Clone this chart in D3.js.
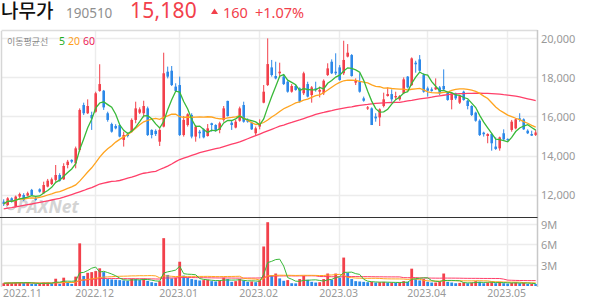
<!DOCTYPE html>
<meta charset="utf-8" />
<style>
  body {
    margin: 0;
    background: #fff;
  }
  text {
    font-family: "Noto Sans", sans-serif;
  }
</style>
<body>
  <script src="https://d3js.org/d3.v7.min.js"></script>
  <script>
    // header values
    var stockName = "나무가",
      stockCode = "190510",
      lastPrice = "15,180",
      change = "160",
      changePct = "+1.07%";

    // month labels and index of first trading day of each month
    var monthLabels = ["2022.11", "2022.12", "2023.01", "2023.02", "2023.03", "2023.04", "2023.05"];
    var monthStart = [1, 23, 44, 64, 84, 106, 126];

    var priceTicks = [12000, 14000, 16000, 18000, 20000];
    var volumeTicks = [3, 6, 9]; // millions

    // daily candles, 2022-10-31 .. 2023-05-12
    var open = [11650, 11480, 11820, 11400, 11910, 11990, 11960, 12250, 11820, 12280,
      12080, 12420, 12550, 12760, 13010, 12790, 13520, 13780, 13610, 14290,
      16580, 16160, 16070, 16240, 17300, 17310, 16160, 15610, 15510, 15560,
      14800, 15100, 15220, 15820, 16190, 16160, 16410, 15310, 15260, 14710,
      15480, 18280, 18330, 17520, 17600, 15050, 15560, 16070, 14970, 15220,
      15340, 15000, 15650, 15560, 15310, 15820, 16790, 15680, 15430, 15780,
      16580, 15820, 15680, 15140, 15480, 16700, 17600, 18500, 18060, 18200,
      18030, 17770, 17260, 17550, 17430, 17180, 17650, 17090, 17430, 17260,
      17180, 18110, 18790, 18280, 18500, 18200, 19050, 19130, 17720, 17770,
      16920, 16400, 16410, 15990, 15950, 16530, 17040, 17140, 16970, 16870,
      17180, 18030, 17600, 18740, 18910, 18110, 17430, 17380, 17380, 17480,
      17550, 17210, 16840, 17180, 16700, 17260, 16800, 16530, 16190, 15780,
      15170, 15000, 15100, 14460, 14370, 15140, 14850, 15310, 15390, 15900,
      15850, 15270, 15100, 15050];
    var high = [11770, 11880, 11870, 11960, 12110, 12080, 12160, 12300, 11910, 12330,
      12670, 12810, 12880, 13520, 13100, 13610, 13780, 13810, 14460, 16410,
      16700, 16870, 16240, 17260, 18660, 17350, 16240, 15680, 15600, 15610,
      15220, 15170, 15900, 16750, 16460, 16800, 16500, 15340, 15340, 15390,
      19250, 18540, 18570, 17690, 18030, 16020, 16160, 16160, 15560, 15310,
      15390, 15610, 15680, 15600, 15730, 16530, 16800, 15780, 15820, 16500,
      16750, 15900, 15730, 15480, 15850, 17600, 19980, 18880, 18790, 18740,
      18150, 17820, 17650, 17600, 17480, 18280, 17770, 17550, 17770, 17520,
      17890, 18710, 18910, 19220, 18620, 19860, 19690, 19180, 17940, 18200,
      17010, 16530, 16460, 16160, 16410, 17210, 17480, 17380, 17260, 17090,
      17990, 18060, 19010, 18840, 19130, 18200, 17520, 17480, 17940, 17550,
      18400, 17260, 17210, 17210, 17090, 17310, 16840, 16570, 16240, 15850,
      15220, 15140, 15140, 14930, 14970, 15340, 14880, 15820, 15900, 16160,
      15900, 15340, 15270, 15300];
    var low = [11430, 11430, 11600, 11360, 11820, 11690, 11910, 11940, 11700, 12110,
      12040, 12380, 12500, 12670, 12670, 12760, 13350, 13610, 13350, 14200,
      16070, 16120, 15310, 16190, 17260, 16330, 15730, 15170, 15340, 14930,
      14460, 14930, 15170, 15650, 16120, 15950, 15000, 14880, 15000, 14490,
      15440, 17940, 17550, 17260, 15000, 14970, 15480, 14880, 14710, 14880,
      14880, 14970, 15220, 15220, 15140, 15730, 15990, 15310, 15390, 15730,
      15680, 15680, 15310, 15000, 15340, 16670, 17550, 18030, 17890, 17990,
      17600, 17210, 17210, 17310, 16700, 17090, 16970, 16700, 17260, 16970,
      17090, 18060, 18160, 18110, 17820, 18110, 19010, 18030, 17600, 17210,
      16750, 16330, 15560, 15730, 15510, 16460, 17010, 16750, 16840, 16800,
      17140, 17430, 17550, 18230, 18280, 17210, 17010, 17260, 17350, 17090,
      17310, 16800, 16360, 16840, 16630, 16800, 16360, 16020, 15730, 15000,
      14970, 14630, 14250, 14290, 14250, 14760, 14750, 15220, 15340, 15730,
      15310, 15100, 15000, 15000];
    var close = [11530, 11820, 11650, 11910, 12040, 11740, 12080, 11990, 11740, 12160,
      12500, 12720, 12790, 13010, 12720, 13470, 13690, 13690, 14370, 16330,
      16160, 16530, 15900, 17180, 17650, 16460, 15820, 15220, 15390, 14970,
      15050, 15000, 15820, 16410, 16360, 16530, 15050, 15050, 15100, 15310,
      18200, 18030, 17600, 17300, 15050, 15820, 16110, 14970, 15480, 15140,
      14930, 15390, 15560, 15310, 15650, 16410, 16020, 15560, 15730, 16410,
      15730, 15730, 15340, 15390, 15650, 17260, 18670, 18110, 17940, 18280,
      17650, 17260, 17550, 17350, 16750, 18200, 17010, 17480, 17350, 17350,
      17820, 18450, 18200, 18200, 17860, 18880, 19250, 18060, 17820, 17260,
      16800, 16460, 15560, 15900, 16360, 16870, 17140, 16870, 17040, 17040,
      17890, 17480, 18960, 18660, 18330, 17260, 17310, 17300, 17480, 17180,
      17380, 16840, 17180, 16920, 17040, 16840, 16530, 16070, 15780, 15050,
      15090, 15100, 14630, 14340, 14930, 14830, 14800, 15730, 15850, 15820,
      15340, 15140, 15020, 15180];

    // volume in millions of shares
    var volume = [0.4, 0.45, 0.45, 0.5, 0.5, 0.45, 0.5, 0.3, 0.28, 0.35,
      0.5, 0.5, 0.4, 1.05, 0.3, 1.2, 0.55, 0.3, 1.35, 6.15,
      1.45, 1.9, 2.0, 2.15, 2.55, 2.0, 1.0, 0.95, 0.9, 0.85,
      0.8, 0.75, 1.05, 1.0, 0.85, 1.05, 0.75, 0.55, 0.45, 0.7,
      6.9, 1.6, 1.1, 1.2, 3.5, 1.5, 1.2, 1.0, 0.9, 0.8,
      0.85, 0.9, 0.7, 0.65, 0.8, 1.2, 1.0, 0.6, 0.7, 1.0,
      0.8, 0.6, 0.65, 0.55, 0.8, 5.7, 9.2, 1.55, 1.8, 1.1,
      0.75, 0.85, 0.4, 0.38, 1.0, 1.45, 0.9, 0.6, 0.5, 0.55,
      1.0, 1.8, 0.9, 1.8, 1.2, 4.1, 1.9, 1.0, 0.7, 0.65,
      0.6, 0.55, 0.6, 0.5, 0.55, 0.6, 0.5, 0.5, 0.45, 0.5,
      0.7, 0.6, 2.5, 1.0, 0.8, 1.0, 0.6, 0.5, 0.5, 0.6,
      1.8, 0.6, 0.5, 0.4, 0.45, 0.5, 0.4, 0.5, 0.7, 0.6,
      0.4, 0.5, 0.55, 0.4, 0.6, 0.4, 0.35, 0.45, 0.5, 0.4,
      0.45, 0.3, 0.3, 0.28];

    // 60 day moving average of the close, as shown on the chart
    var ma60 = [11280, 11315, 11350, 11390, 11420, 11460, 11495, 11530, 11570, 11610,
      11650, 11690, 11735, 11780, 11820, 11880, 11950, 12015, 12080, 12150,
      12220, 12300, 12370, 12460, 12550, 12600, 12640, 12680, 12700, 12730,
      12790, 12850, 12900, 12970, 13040, 13100, 13130, 13170, 13200, 13290,
      13370, 13460, 13570, 13690, 13800, 13870, 13940, 14010, 14080, 14150,
      14200, 14250, 14300, 14350, 14400, 14460, 14520, 14580, 14640, 14700,
      14780, 14860, 14940, 15020, 15100, 15180, 15260, 15340, 15420, 15500,
      15560, 15630, 15690, 15760, 15820, 15890, 15960, 16030, 16100, 16160,
      16200, 16250, 16290, 16340, 16380, 16420, 16460, 16490, 16530, 16560,
      16590, 16610, 16640, 16660, 16680, 16690, 16700, 16710, 16715, 16720,
      16750, 16790, 16820, 16860, 16890, 16920, 16950, 16980, 17020, 17050,
      17080, 17110, 17140, 17150, 17160, 17165, 17170, 17175, 17180, 17180,
      17175, 17170, 17160, 17150, 17140, 17110, 17090, 17060, 17030, 17000,
      16950, 16900, 16850, 16800];

    var n = close.length;
    [open, high, low, volume, ma60].forEach(function (a) {
      if (a.length !== n) throw new Error("length mismatch " + a.length + " vs " + n);
    });

    var red = "#f2404b",
      blue = "#2c88e8",
      c5 = "#39b939",
      c20 = "#ffa41f",
      c60 = "#ff3f69",
      grid = "#ececec";

    // panel edges
    var plotLeft = 1.5,
      plotRight = 537.5,
      plotTop = 31,
      priceBottom = 217,
      volBottom = 287;

    var svg = d3
      .select("body")
      .append("svg")
      .attr("width", 594)
      .attr("height", 304);

    var x = d3.scaleBand().domain(d3.range(n)).range([1.7, 537.7]);
    var cx = function (i) {
      return x(i) + x.bandwidth() / 2;
    };
    var y = d3.scaleLinear().domain([12000, 20000]).range([194.8, 38]);
    var yv = d3.scaleLinear().domain([0, 9]).range([286, 223.6]);

    function movingAvg(arr, w) {
      return arr.map(function (d, i) {
        return d3.mean(arr.slice(Math.max(0, i - w + 1), i + 1));
      });
    }
    var ma5 = movingAvg(close, 5),
      ma20 = movingAvg(close, 20);
    var vma5 = movingAvg(volume, 5),
      vma20 = movingAvg(volume, 20),
      vma60 = movingAvg(volume, 60);

    // candle colour: up/down day; volume colour: more/less than the day before
    var candleColor = function (i) {
      return close[i] >= open[i] ? red : blue;
    };
    var volColor = function (i) {
      return i === 0 || volume[i] >= volume[i - 1] ? red : blue;
    };

    // clip regions for the two panels
    var defs = svg.append("defs");
    defs.append("clipPath").attr("id", "clipPrice").append("rect")
      .attr("x", plotLeft).attr("y", plotTop)
      .attr("width", plotRight - plotLeft).attr("height", priceBottom - plotTop);
    defs.append("clipPath").attr("id", "clipVol").append("rect")
      .attr("x", plotLeft).attr("y", priceBottom)
      .attr("width", plotRight - plotLeft).attr("height", volBottom - priceBottom);

    // gridlines
    svg.append("g").selectAll("line").data(priceTicks).enter().append("line")
      .attr("x1", plotLeft).attr("x2", plotRight)
      .attr("y1", function (d) { return Math.round(y(d)) + 0.5; })
      .attr("y2", function (d) { return Math.round(y(d)) + 0.5; })
      .attr("stroke", grid).attr("stroke-width", 1.5);
    svg.append("g").selectAll("line").data(volumeTicks).enter().append("line")
      .attr("x1", plotLeft).attr("x2", plotRight)
      .attr("y1", function (d) { return Math.round(yv(d)) + 0.5; })
      .attr("y2", function (d) { return Math.round(yv(d)) + 0.5; })
      .attr("stroke", grid).attr("stroke-width", 1.5);
    svg.append("g").selectAll("line").data(monthStart.slice(1)).enter().append("line")
      .attr("x1", function (d) { return Math.round(cx(d) - 1) + 0.5; })
      .attr("x2", function (d) { return Math.round(cx(d) - 1) + 0.5; })
      .attr("y1", plotTop).attr("y2", volBottom)
      .attr("stroke", grid).attr("stroke-width", 1.5);

    // watermark
    var wm = svg.append("g").attr("opacity", 0.7);
    wm.append("circle").attr("cx", 11).attr("cy", 205).attr("r", 4.5)
      .attr("fill", "none").attr("stroke", "#bdbdbd").attr("stroke-width", 1.5);
    wm.append("text").attr("x", 17).attr("y", 212.5)
      .style("font-size", "17.5px").style("font-weight", "bold").style("font-style", "italic")
      .attr("fill", "#c2c2c2").text("PAXNet");

    // candles
    var candles = svg.append("g").attr("clip-path", "url(#clipPrice)")
      .selectAll("g").data(d3.range(n)).enter().append("g");
    candles.append("line")
      .attr("x1", cx).attr("x2", cx)
      .attr("y1", function (i) { return y(high[i]); })
      .attr("y2", function (i) { return y(low[i]); })
      .attr("stroke", candleColor)
      .attr("stroke-width", 1);
    candles.append("rect")
      .attr("x", function (i) { return cx(i) - 1.3; })
      .attr("width", 2.6)
      .attr("y", function (i) { return y(Math.max(open[i], close[i])); })
      .attr("height", function (i) { return Math.max(1, Math.abs(y(open[i]) - y(close[i]))); })
      .attr("fill", candleColor);

    // moving average lines
    function drawLine(g, data, scale, color, w) {
      g.append("path")
        .datum(data)
        .attr("fill", "none")
        .attr("stroke", color)
        .attr("stroke-width", w)
        .attr("d", d3.line().x(function (d, i) { return cx(i); }).y(function (d) { return scale(d); }));
    }
    var maG = svg.append("g").attr("clip-path", "url(#clipPrice)");
    drawLine(maG, ma60, y, c60, 1.3);
    drawLine(maG, ma20, y, c20, 1.3);
    drawLine(maG, ma5, y, c5, 1.3);

    // volume bars
    var volG = svg.append("g").attr("clip-path", "url(#clipVol)");
    volG.selectAll("rect").data(d3.range(n)).enter().append("rect")
      .attr("x", function (i) { return cx(i) - 1.4; })
      .attr("width", 2.8)
      .attr("y", function (i) { return yv(volume[i]); })
      .attr("height", function (i) { return yv(0) - yv(volume[i]); })
      .attr("fill", volColor);
    drawLine(volG, vma60, yv, c60, 1);
    drawLine(volG, vma20, yv, c20, 1);
    drawLine(volG, vma5, yv, c5, 1);

    // frame
    svg.append("line").attr("x1", plotLeft).attr("x2", plotRight).attr("y1", plotTop - 0.5).attr("y2", plotTop - 0.5)
      .attr("stroke", "#dcdcdc").attr("stroke-width", 1.5);
    svg.append("line").attr("x1", plotLeft).attr("x2", plotLeft).attr("y1", plotTop).attr("y2", volBottom)
      .attr("stroke", "#d6d6d6").attr("stroke-width", 1.5);
    svg.append("line").attr("x1", plotRight).attr("x2", plotRight).attr("y1", plotTop - 1).attr("y2", volBottom)
      .attr("stroke", "#c8c8c8").attr("stroke-width", 1.5);
    svg.append("line").attr("x1", 0).attr("x2", plotRight).attr("y1", priceBottom + 0.5).attr("y2", priceBottom + 0.5)
      .attr("stroke", "#333").attr("stroke-width", 1.2);

    // axis labels
    svg.append("g").selectAll("text").data(priceTicks).enter().append("text")
      .attr("x", 541).attr("y", function (d) { return y(d) + 4.5; })
      .style("font-size", "11px").attr("fill", "#999")
      .text(function (d) { return d3.format(",")(d); });
    svg.append("g").selectAll("text").data(volumeTicks).enter().append("text")
      .attr("x", 541).attr("y", function (d) { return yv(d) + 5; })
      .style("font-size", "11px").attr("fill", "#999")
      .text(function (d) { return d + "M"; });
    svg.append("g").selectAll("text").data(monthStart).enter().append("text")
      .attr("x", function (d) { return cx(d) - 1; })
      .attr("y", 296.5)
      .attr("text-anchor", "middle")
      .style("font-size", "10.5px").attr("fill", "#999")
      .text(function (d, k) { return monthLabels[k]; })
      .each(function () {
        var w = this.getComputedTextLength();
        var xx = +d3.select(this).attr("x");
        if (xx - w / 2 < 3) d3.select(this).attr("x", 3 + w / 2);
      });

    // moving average legend
    svg.append("text").attr("x", 7).attr("y", 45)
      .style("font-family", "'Noto Sans CJK KR'").style("font-size", "9px").attr("fill", "#8a8a8a")
      .text("이동평균선");
    var leg = svg.append("text").attr("x", 59).attr("y", 45).style("font-size", "10.5px");
    leg.append("tspan").attr("fill", "#1fae1f").text("5");
    leg.append("tspan").attr("dx", 3).attr("fill", "#ffa01a").text("20");
    leg.append("tspan").attr("dx", 3).attr("fill", "#ec1c57").text("60");

    // header
    svg.append("text").attr("x", 1).attr("y", 18)
      .style("font-family", "'Noto Sans CJK KR'").style("font-size", "19px").style("font-weight", 500)
      .attr("fill", "#111").text(stockName);
    svg.append("text").attr("x", 66).attr("y", 17.5)
      .style("font-size", "13.5px").attr("fill", "#8f8f8f").text(stockCode);
    var priceText = svg.append("text").attr("x", 130).attr("y", 18)
      .style("font-size", "21px").attr("fill", red).text(lastPrice);
    // widen the big price to the width seen in the picture
    var pw = priceText.node().getComputedTextLength();
    priceText.style("letter-spacing", Math.max(0, (67 - pw) / 6) + "px");
    svg.append("path").attr("d", "M211,14L218,14L214.5,8.5Z").attr("fill", red);
    svg.append("text").attr("x", 223).attr("y", 17.5)
      .style("font-size", "14.5px").attr("fill", red).text(change);
    svg.append("text").attr("x", 255).attr("y", 17.5)
      .style("font-size", "14.5px").attr("fill", red).text(changePct);
  </script>
</body>
